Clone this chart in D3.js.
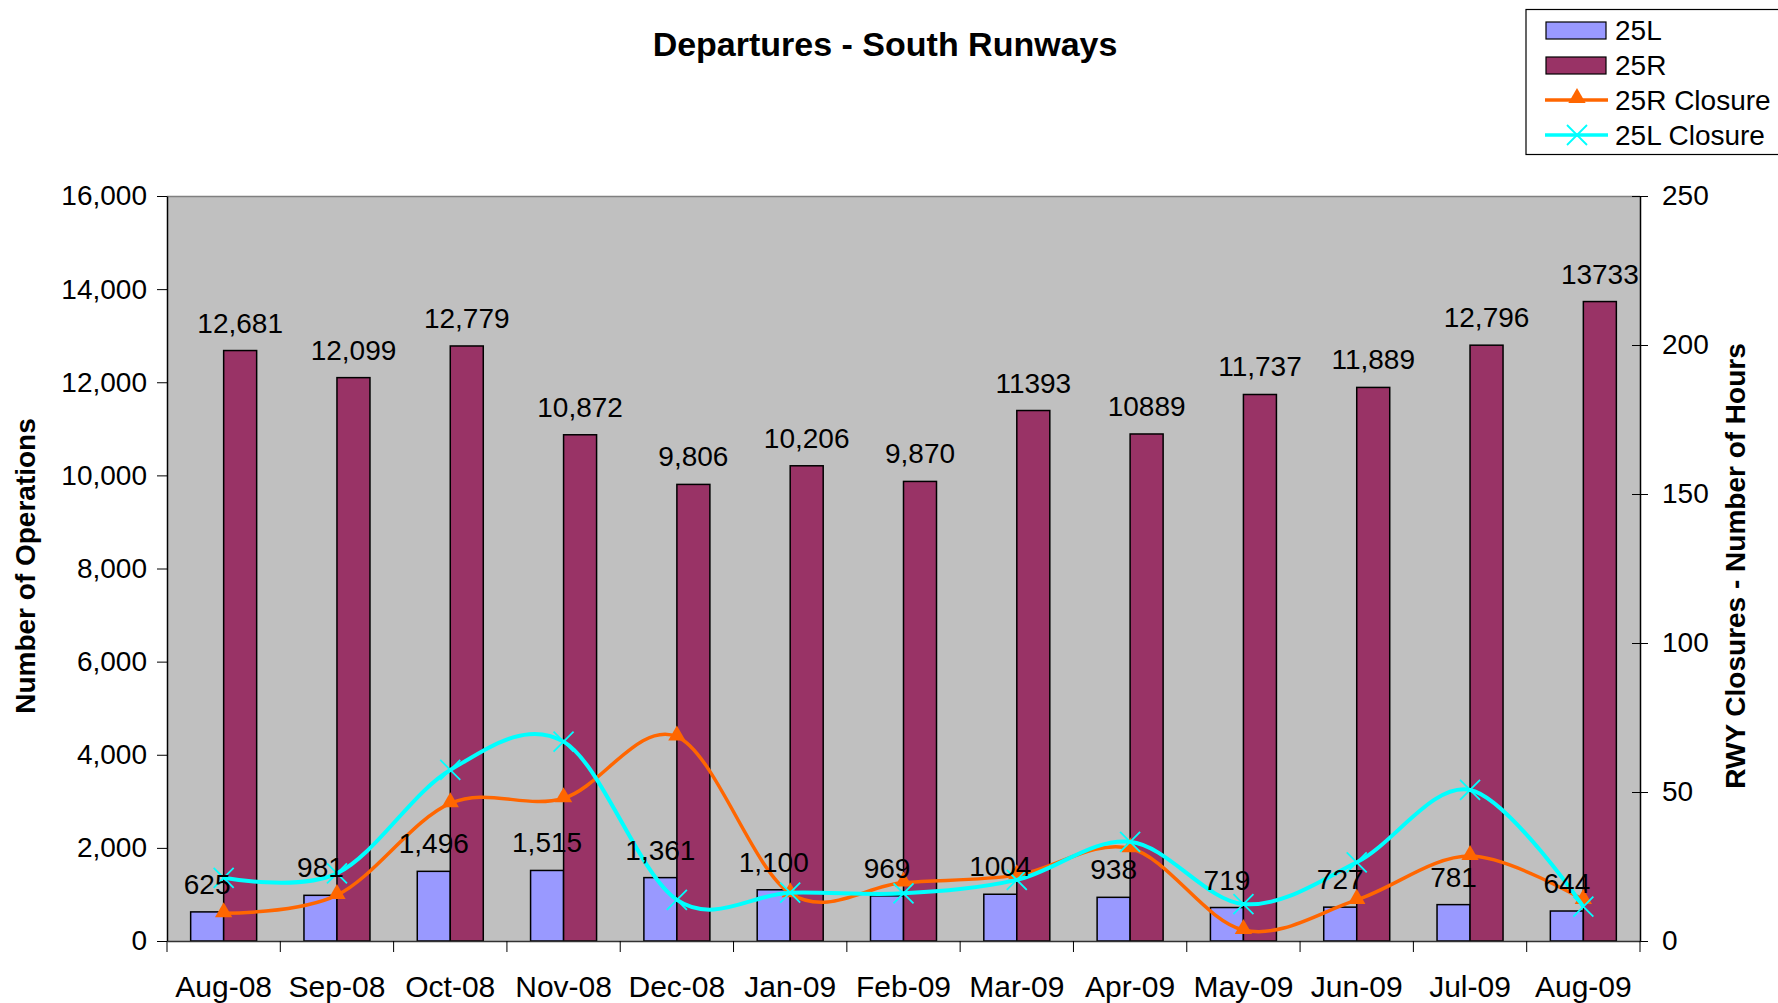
<!DOCTYPE html>
<html>
<head>
<meta charset="utf-8">
<script src="https://cdn.jsdelivr.net/npm/d3@7"></script>
<style>
  body { margin: 0; background: #fff; }
  svg text { font-family: "Liberation Sans", Arial, sans-serif; fill: #000; }
</style>
</head>
<body>
<div id="chart"></div>
<script>
// данные
var months = ["Aug-08", "Sep-08", "Oct-08", "Nov-08", "Dec-08", "Jan-09", "Feb-09",
              "Mar-09", "Apr-09", "May-09", "Jun-09", "Jul-09", "Aug-09"];
var ops25L = [625, 981, 1496, 1515, 1361, 1100, 969, 1004, 938, 719, 727, 781, 644];
var ops25R = [12681, 12099, 12779, 10872, 9806, 10206, 9870, 11393, 10889, 11737, 11889, 12796, 13733];
var labels25L = ["625", "981", "1,496", "1,515", "1,361", "1,100", "969", "1004", "938", "719", "727", "781", "644"];
var labels25R = ["12,681", "12,099", "12,779", "10,872", "9,806", "10,206", "9,870", "11393", "10889", "11,737", "11,889", "12,796", "13733"];
var closure25R = [9.3, 15.4, 46.2, 47.9, 68.6, 16.0, 19.6, 22.1, 31.1, 3.7, 13.8, 28.5, 13.8];
var closure25L = [21.2, 22.7, 57.4, 66.9, 13.8, 16.2, 16.0, 20.5, 33.3, 12.4, 26.4, 50.7, 11.5];
var leftTicks = [0, 2000, 4000, 6000, 8000, 10000, 12000, 14000, 16000];
var rightTicks = [0, 50, 100, 150, 200, 250];

var W = 1778, H = 1003;
var pLeft = 167, pRight = 1640, pTop = 196, pBottom = 941;
var barW = 33;

var svg = d3.select("#chart").append("svg")
    .attr("width", W)
    .attr("height", H);

var x = d3.scaleBand().domain(months).range([pLeft, pRight]).padding(0);
var yL = d3.scaleLinear().domain([0, 16000]).range([pBottom, pTop]);
var yR = d3.scaleLinear().domain([0, 250]).range([pBottom, pTop]);
function cx(i) { return x(months[i]) + x.bandwidth() / 2; }

// фон области построения
svg.append("rect")
    .attr("x", pLeft).attr("y", pTop)
    .attr("width", pRight - pLeft).attr("height", pBottom - pTop)
    .attr("fill", "#c0c0c0");
svg.append("line")
    .attr("x1", pLeft).attr("x2", pRight).attr("y1", pTop + 0.5).attr("y2", pTop + 0.5)
    .attr("stroke", "#808080").attr("stroke-width", 1.5);

// столбцы
months.forEach(function (m, i) {
    svg.append("rect")
        .attr("x", cx(i) - barW).attr("y", yL(ops25L[i]))
        .attr("width", barW).attr("height", pBottom - yL(ops25L[i]))
        .attr("fill", "#9999ff").attr("stroke", "#000").attr("stroke-width", 1.5);
    svg.append("rect")
        .attr("x", cx(i)).attr("y", yL(ops25R[i]))
        .attr("width", barW).attr("height", pBottom - yL(ops25R[i]))
        .attr("fill", "#993366").attr("stroke", "#000").attr("stroke-width", 1.5);
});

// оси
var axisL = svg.append("g").attr("transform", "translate(" + pLeft + ",0)")
    .call(d3.axisLeft(yL).tickValues(leftTicks).tickSize(10).tickSizeOuter(0).tickPadding(10)
        .tickFormat(d3.format(",")));
var axisR = svg.append("g").attr("transform", "translate(" + pRight + ",0)")
    .call(d3.axisRight(yR).tickValues(rightTicks).tickSize(8).tickSizeOuter(0).tickPadding(14));
axisR.selectAll(".tick line").attr("x1", -8);
var axisB = svg.append("g").attr("transform", "translate(0," + pBottom + ")")
    .call(d3.axisBottom(x).tickSize(0).tickSizeOuter(0).tickPadding(35));
// засечки между категориями
var bounds = months.map(function (m) { return x(m); }).concat([pRight]);
axisB.selectAll(".bound").data(bounds).enter().append("line")
    .attr("x1", function (d) { return d; }).attr("x2", function (d) { return d; })
    .attr("y1", 0).attr("y2", 11).attr("stroke", "#000");

[axisL, axisR, axisB].forEach(function (a) {
    a.selectAll("text").style("font-size", "28px").style("font-family", "Liberation Sans, Arial, sans-serif").attr("fill", "#000");
    a.selectAll("path.domain").attr("stroke", "#000").attr("stroke-width", 1.5);
    a.selectAll(".tick line").attr("stroke", "#000");
});
axisB.selectAll("text").style("font-size", "30px");
axisB.selectAll("path.domain").attr("stroke", "#333");

// линии закрытий
var line = d3.line()
    .x(function (d, i) { return cx(i); })
    .y(function (d) { return yR(d); })
    .curve(d3.curveCardinal.tension(0));

svg.append("path").datum(closure25R)
    .attr("d", line).attr("fill", "none")
    .attr("stroke", "#ff6600").attr("stroke-width", 3.5);
svg.selectAll(".tri").data(closure25R).enter().append("path")
    .attr("d", d3.symbol().type(d3.symbolTriangle).size(130))
    .attr("transform", function (d, i) { return "translate(" + cx(i) + "," + (yR(d) - 1) + ")"; })
    .attr("fill", "#ff6600");

svg.append("path").datum(closure25L)
    .attr("d", line).attr("fill", "none")
    .attr("stroke", "#00ffff").attr("stroke-width", 4);
svg.selectAll(".xm").data(closure25L).enter().append("path")
    .attr("d", "M-10,-10L10,10M-10,10L10,-10")
    .attr("transform", function (d, i) { return "translate(" + cx(i) + "," + yR(d) + ")"; })
    .attr("fill", "none").attr("stroke", "#00ffff").attr("stroke-width", 1.8);

// подписи значений
months.forEach(function (m, i) {
    svg.append("text")
        .attr("x", cx(i) - barW / 2).attr("y", yL(ops25L[i]) - 18)
        .attr("text-anchor", "middle").style("font-size", "28px")
        .text(labels25L[i]);
    svg.append("text")
        .attr("x", cx(i) + barW / 2).attr("y", yL(ops25R[i]) - 18)
        .attr("text-anchor", "middle").style("font-size", "28px")
        .text(labels25R[i]);
});

// заголовки
svg.append("text")
    .attr("x", 885).attr("y", 56)
    .attr("text-anchor", "middle")
    .style("font-size", "34px").style("font-weight", "bold")
    .text("Departures - South Runways");
svg.append("text")
    .attr("transform", "translate(35,566) rotate(-90)")
    .attr("text-anchor", "middle")
    .style("font-size", "28px").style("font-weight", "bold")
    .text("Number of Operations");
svg.append("text")
    .attr("transform", "translate(1745,566) rotate(-90)")
    .attr("text-anchor", "middle")
    .style("font-size", "28px").style("font-weight", "bold")
    .text("RWY Closures - Number of Hours");

// легенда
var lg = svg.append("g");
lg.append("rect")
    .attr("x", 1526).attr("y", 9.5).attr("width", 260).attr("height", 145)
    .attr("fill", "#fff").attr("stroke", "#000").attr("stroke-width", 1.2);
var legendItems = [
    { name: "25L", type: "bar", color: "#9999ff" },
    { name: "25R", type: "bar", color: "#993366" },
    { name: "25R Closure", type: "tri", color: "#ff6600" },
    { name: "25L Closure", type: "x", color: "#00ffff" }
];
legendItems.forEach(function (d, i) {
    var yy = 30 + i * 35;
    if (d.type == "bar") {
        lg.append("rect").attr("x", 1546).attr("y", yy - 8).attr("width", 60).attr("height", 17)
            .attr("fill", d.color).attr("stroke", "#000").attr("stroke-width", 1.2);
    } else {
        lg.append("line").attr("x1", 1545).attr("x2", 1608).attr("y1", yy).attr("y2", yy)
            .attr("stroke", d.color).attr("stroke-width", 3.5);
        if (d.type == "tri") {
            lg.append("path").attr("d", d3.symbol().type(d3.symbolTriangle).size(130))
                .attr("transform", "translate(1577," + (yy - 2) + ")").attr("fill", d.color);
        } else {
            lg.append("path").attr("d", "M-10,-10L10,10M-10,10L10,-10")
                .attr("transform", "translate(1577," + yy + ")")
                .attr("fill", "none").attr("stroke", d.color).attr("stroke-width", 1.8);
        }
    }
    lg.append("text").attr("x", 1615).attr("y", yy + 10)
        .style("font-size", "28px").text(d.name);
});
</script>
</body>
</html>
